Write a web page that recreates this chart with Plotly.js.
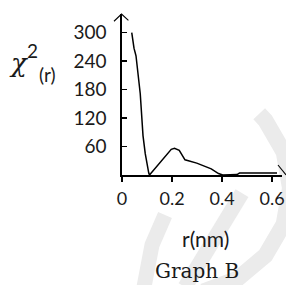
<!DOCTYPE html>
<html>
<head>
<meta charset="utf-8">
<script src="https://cdn.plot.ly/plotly-3.0.1.min.js"></script>
<style>
  html, body { margin: 0; padding: 0; background: #ffffff; }
  #chart { width: 286px; height: 285px; }
</style>
</head>
<body>
<div id="chart"></div>
<script>
// r (nm) and chi^2(r) values
var rValues = [0.039, 0.048, 0.056, 0.073, 0.084, 0.093, 0.107, 0.110, 0.197, 0.210, 0.229, 0.252, 0.299, 0.357, 0.386, 0.403, 0.460, 0.470, 0.620];
var chiValues = [300, 267, 251, 171, 83, 45, 4, 0, 54, 56, 52, 32, 25, 13, 3, 0, 1, 4, 4];

var xTickVals = [0, 0.2, 0.4, 0.6];
var xTickText = ["0", "0.2", "0.4", "0.6"];
var yTickVals = [60, 120, 180, 240, 300];
var yTickText = ["60", "120", "180", "240", "300"];

var trace = {
  x: rValues,
  y: chiValues,
  type: 'scatter',
  mode: 'lines',
  line: { color: '#000000', width: 1.5 },
  hoverinfo: 'skip',
  cliponaxis: false
};

var wm = '#ebebeb';
var ink = '#1a1a1a';

var layout = {
  width: 286,
  height: 285,
  margin: { l: 122, r: 4, t: 14, b: 110 },
  paper_bgcolor: '#ffffff',
  plot_bgcolor: 'rgba(0,0,0,0)',
  showlegend: false,
  font: { family: 'Lato, sans-serif', color: ink },
  xaxis: {
    range: [0, 0.64],
    tickvals: xTickVals,
    ticktext: xTickText,
    ticks: 'outside',
    ticklen: 5,
    tickwidth: 1.4,
    tickcolor: '#000000',
    showline: true,
    linecolor: '#000000',
    linewidth: 1.6,
    showgrid: false,
    zeroline: false,
    tickfont: { family: 'Lato, sans-serif', size: 18, color: ink },
    ticklabelstandoff: 2
  },
  yaxis: {
    range: [0, 339],
    tickvals: yTickVals,
    ticktext: yTickText,
    ticks: 'inside',
    ticklen: 5,
    tickwidth: 1.4,
    tickcolor: '#000000',
    showline: true,
    linecolor: '#000000',
    linewidth: 1.6,
    showgrid: false,
    zeroline: false,
    tickfont: { family: 'Lato, sans-serif', size: 19, color: ink },
    ticklabelstandoff: 10
  },
  shapes: [
    // watermark strokes (background decoration)
    { type: 'path', xref: 'paper', yref: 'paper', layer: 'below',
      path: 'M 0.8575 0.38 L 0.896 0.339 L 1.011 0.142 L 1.05 -0.081 L 1.011 -0.304 L 0.896 -0.5 L 0.722 -0.645 L 0.5075 -0.723',
      line: { color: wm, width: 16 } },
    { type: 'path', xref: 'paper', yref: 'paper', layer: 'below',
      path: 'M 0.75 -0.112 L 0.394 -0.696',
      line: { color: wm, width: 15 } },
    { type: 'path', xref: 'paper', yref: 'paper', layer: 'below',
      path: 'M 0.269 -0.248 L 0.1875 -0.435 L 0.1375 -0.696',
      line: { color: wm, width: 15 } },
    // arrow head at top of y axis
    { type: 'path', xref: 'paper', yref: 'paper',
      path: 'M -0.05 0.955 L -0.003 1.0 L 0.04 0.96',
      line: { color: '#000000', width: 1.1 } },
    // arrow stroke at end of x axis
    { type: 'path', xref: 'paper', yref: 'paper',
      path: 'M 0.975 0.062 L 1.025 0.0',
      line: { color: '#000000', width: 1.1 } }
  ],
  annotations: [
    { xref: 'paper', yref: 'paper', x: (19 - 122) / 160, y: (175 - 63) / 161,
      text: 'χ', showarrow: false, xanchor: 'center', yanchor: 'middle',
      font: { family: 'DejaVu Serif, serif', size: 26, color: ink, style: 'italic' } },
    { xref: 'paper', yref: 'paper', x: (32 - 122) / 160, y: (175 - 50) / 161,
      text: '2', showarrow: false, xanchor: 'center', yanchor: 'middle',
      font: { family: 'Lato, sans-serif', size: 19, color: ink } },
    { xref: 'paper', yref: 'paper', x: (47 - 122) / 160, y: (175 - 74) / 161,
      text: '(r)', showarrow: false, xanchor: 'center', yanchor: 'middle',
      font: { family: 'Lato, sans-serif', size: 19, color: ink } },
    { xref: 'paper', yref: 'paper', x: (205 - 122) / 160, y: (175 - 238) / 161,
      text: 'r(nm)', showarrow: false, xanchor: 'center', yanchor: 'middle',
      font: { family: 'Lato, sans-serif', size: 21, color: ink } },
    { xref: 'paper', yref: 'paper', x: (197 - 122) / 160, y: (175 - 271) / 161,
      text: 'Graph B', showarrow: false, xanchor: 'center', yanchor: 'middle',
      font: { family: 'DejaVu Serif, serif', size: 20, color: ink } }
  ]
};

Plotly.newPlot('chart', [trace], layout, { displayModeBar: false, staticPlot: true });
</script>
</body>
</html>
